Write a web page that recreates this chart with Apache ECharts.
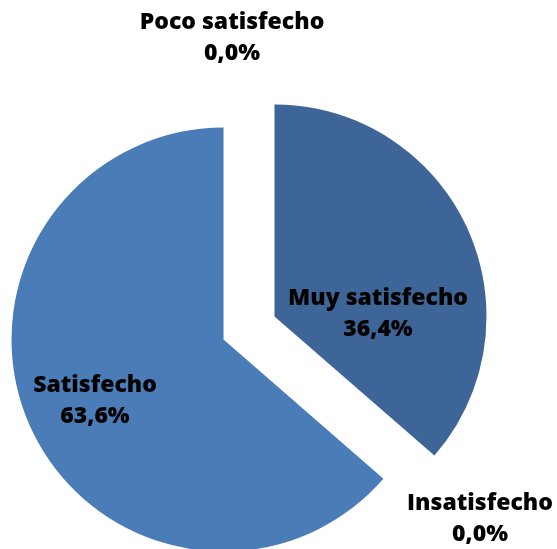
<!DOCTYPE html>
<html>
<head>
<meta charset="utf-8">
<script src="https://cdn.jsdelivr.net/npm/echarts@6/dist/echarts.min.js"></script>
<style>
  html, body { margin: 0; padding: 0; background: #fff; }
  #chart { width: 557px; height: 549px; }
</style>
</head>
<body>
<div id="chart"></div>
<script>
// datos del gráfico
const categories = ['Muy satisfecho', 'Satisfecho', 'Poco satisfecho', 'Insatisfecho'];
const percents = [36.4, 63.6, 0.0, 0.0];
const colors = ['#3D6597', '#4A7CB8', '#8EA8C9', '#B9C9DE'];
const exploded = [true, true, false, false];

// posición de cada etiqueta (centro del bloque de texto)
const labelPos = [[378, 314], [95, 401], [232, 38], [480, 519]];

const OFFSET = 28;
const total = percents.reduce((a, b) => a + b, 0);

const chart = echarts.init(document.getElementById('chart'));

const fmt = v => v.toFixed(1).replace('.', ',') + '%';

// desplazamiento del sector separado (labelRect no lo incluye)
function sliceShift(i) {
    if (!exploded[i]) return [0, 0];
    let before = 0;
    for (let k = 0; k < i; k++) before += percents[k];
    const a = (before + percents[i] / 2) / total * 2 * Math.PI;
    return [OFFSET * Math.sin(a), -OFFSET * Math.cos(a)];
}

chart.setOption({
    animation: false,
    series: [{
        type: 'pie',
        center: [249, 328],
        radius: 212,
        startAngle: 90,
        clockwise: true,
        selectedMode: 'multiple',
        selectedOffset: OFFSET,
        emphasis: { disabled: true },
        label: {
            show: true,
            position: 'inside',
            formatter: p => p.name + '\n' + fmt(p.value),
            fontFamily: 'Open Sans',
            fontWeight: 800,
            fontSize: 23,
            lineHeight: 31,
            color: '#000'
        },
        labelLine: { show: false },
        labelLayout: p => {
            const r = p.labelRect;
            const cx = r.x + r.width / 2, cy = r.y + r.height / 2;
            const s = sliceShift(p.dataIndex);
            return {
                dx: labelPos[p.dataIndex][0] - cx - s[0],
                dy: labelPos[p.dataIndex][1] - cy - s[1]
            };
        },
        data: categories.map((name, i) => ({
            name,
            value: percents[i],
            selected: exploded[i],
            itemStyle: { color: colors[i], borderWidth: 0 }
        }))
    }]
});
</script>
</body>
</html>
